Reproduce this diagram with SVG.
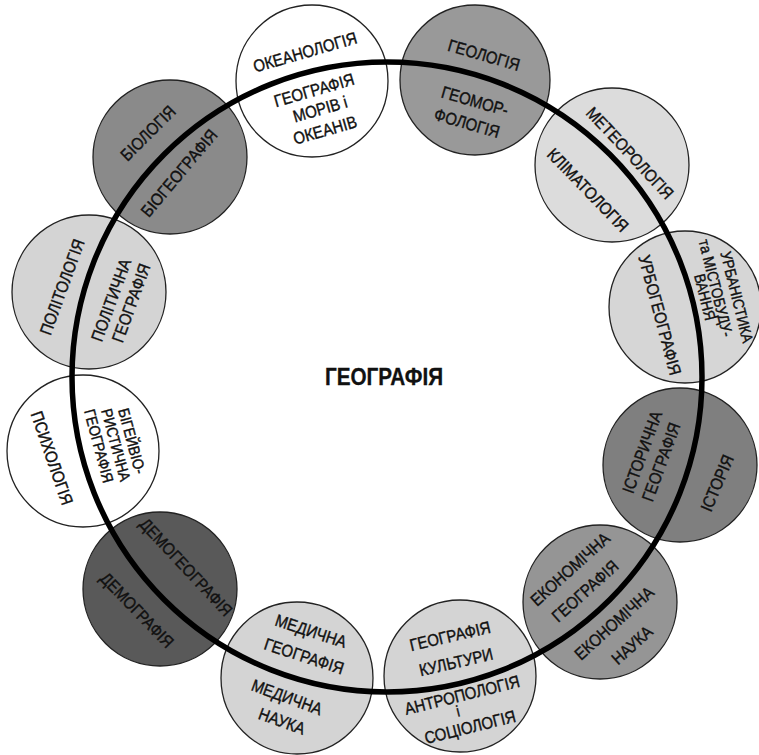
<svg xmlns="http://www.w3.org/2000/svg" width="759" height="755" viewBox="0 0 759 755">
<style>
.c{stroke:#222;stroke-width:1.3}
text{font-family:"Liberation Sans",Arial,sans-serif;font-size:17px;fill:#111;stroke:#111;stroke-width:0.4;text-anchor:middle}
.s{font-size:15.5px}
.main{font-size:23px;font-weight:bold;stroke-width:0.3}
.ring{fill:none;stroke:#000;stroke-width:5.5}
</style>
<rect width="759" height="755" fill="#fff"/>
<g id="node-ocean"><circle class="c" cx="312" cy="81" r="76" fill="#ffffff"/></g>
<g id="node-geology"><circle class="c" cx="475" cy="80" r="75" fill="#999999"/></g>
<g id="node-meteo"><circle class="c" cx="612" cy="165" r="77" fill="#dcdcdc"/></g>
<g id="node-urbo"><circle class="c" cx="685" cy="307" r="76" fill="#d6d6d6"/></g>
<g id="node-history"><circle class="c" cx="680" cy="465" r="77" fill="#7f7f7f"/></g>
<g id="node-econ"><circle class="c" cx="600" cy="602" r="77" fill="#959595"/></g>
<g id="node-anthro"><circle class="c" cx="460" cy="676" r="76" fill="#d4d4d4"/></g>
<g id="node-medical"><circle class="c" cx="297" cy="678" r="76" fill="#d4d4d4"/></g>
<g id="node-demo"><circle class="c" cx="160" cy="589" r="77" fill="#595959"/></g>
<g id="node-psych"><circle class="c" cx="83" cy="451" r="76" fill="#ffffff"/></g>
<g id="node-polit"><circle class="c" cx="89" cy="292" r="77" fill="#d4d4d4"/></g>
<g id="node-bio"><circle class="c" cx="170" cy="157" r="77" fill="#8a8a8a"/></g>
<g id="connectors"><circle class="ring" cx="387" cy="377" r="315"/></g>
<g id="labels">
<g id="label-ocean">
<text transform="translate(305,52) rotate(-16) scale(0.88,1)" y="6">ОКЕАНОЛОГІЯ</text>
<text transform="translate(314,90) rotate(-16) scale(0.88,1)" y="6">ГЕОГРАФІЯ</text>
<text transform="translate(320,109) rotate(-16) scale(0.88,1)" y="6">МОРІВ і</text>
<text transform="translate(325,130) rotate(-16) scale(0.88,1)" y="6">ОКЕАНІВ</text>
</g>
<g id="label-geology">
<text transform="translate(484,55) rotate(16) scale(0.88,1)" y="6">ГЕОЛОГІЯ</text>
<text transform="translate(475,101) rotate(16) scale(0.88,1)" y="6">ГЕОМОР-</text>
<text transform="translate(467,123) rotate(16) scale(0.88,1)" y="6">ФОЛОГІЯ</text>
</g>
<g id="label-meteo">
<text transform="translate(630,153) rotate(47) scale(0.88,1)" y="6">МЕТЕОРОЛОГІЯ</text>
<text transform="translate(588,190) rotate(46) scale(0.88,1)" y="6">КЛІМАТОЛОГІЯ</text>
</g>
<g id="label-urbo">
<text transform="translate(660,315) rotate(75) scale(0.88,1)" y="6">УРБОГЕОГРАФІЯ</text>
<text class="s" transform="translate(737,297) rotate(76) scale(0.88,1)" y="5.5">УРБАНІСТИКА</text>
<text class="s" transform="translate(716,288) rotate(76) scale(0.88,1)" y="5.5">та МІСТОБУДУ-</text>
<text class="s" transform="translate(705,297) rotate(76) scale(0.88,1)" y="5.5">ВАННЯ</text>
</g>
<g id="label-history">
<text transform="translate(642,452) rotate(-70) scale(0.88,1)" y="6">ІСТОРИЧНА</text>
<text transform="translate(661,462) rotate(-70) scale(0.88,1)" y="6">ГЕОГРАФІЯ</text>
<text transform="translate(717,483) rotate(-67) scale(0.88,1)" y="6">ІСТОРІЯ</text>
</g>
<g id="label-econ">
<text transform="translate(570,569) rotate(-42) scale(0.88,1)" y="6">ЕКОНОМІЧНА</text>
<text transform="translate(585,591) rotate(-42) scale(0.88,1)" y="6">ГЕОГРАФІЯ</text>
<text transform="translate(614,623) rotate(-42) scale(0.88,1)" y="6">ЕКОНОМІЧНА</text>
<text transform="translate(632,645) rotate(-42) scale(0.88,1)" y="6">НАУКА</text>
</g>
<g id="label-anthro">
<text transform="translate(450,636) rotate(-13) scale(0.88,1)" y="6">ГЕОГРАФІЯ</text>
<text transform="translate(456,662) rotate(-13) scale(0.88,1)" y="6">КУЛЬТУРИ</text>
<text transform="translate(462,695) rotate(-14) scale(0.88,1)" y="6">АНТРОПОЛОГІЯ</text>
<text class="s" transform="translate(458,711) rotate(-14) scale(0.88,1)" y="5.5">і</text>
<text transform="translate(470,727) rotate(-14) scale(0.88,1)" y="6">СОЦІОЛОГІЯ</text>
</g>
<g id="label-medical">
<text transform="translate(311,631) rotate(18) scale(0.88,1)" y="6">МЕДИЧНА</text>
<text transform="translate(304,656) rotate(18) scale(0.88,1)" y="6">ГЕОГРАФІЯ</text>
<text transform="translate(287,697) rotate(20) scale(0.88,1)" y="6">МЕДИЧНА</text>
<text transform="translate(282,721) rotate(20) scale(0.88,1)" y="6">НАУКА</text>
</g>
<g id="label-demo">
<text transform="translate(186,567) rotate(47) scale(0.88,1)" y="6">ДЕМОГЕОГРАФІЯ</text>
<text transform="translate(137,610) rotate(46) scale(0.88,1)" y="6">ДЕМОГРАФІЯ</text>
</g>
<g id="label-psych">
<text transform="translate(52,458) rotate(71) scale(0.88,1)" y="6">ПСИХОЛОГІЯ</text>
<text class="s" transform="translate(132,441) rotate(75) scale(0.88,1)" y="5.5">БІГЕЙВІО-</text>
<text class="s" transform="translate(116,445) rotate(75) scale(0.88,1)" y="5.5">РИСТИЧНА</text>
<text class="s" transform="translate(99,446) rotate(75) scale(0.88,1)" y="5.5">ГЕОГРАФІЯ</text>
</g>
<g id="label-polit">
<text transform="translate(62,287) rotate(-70) scale(0.88,1)" y="6">ПОЛІТОЛОГІЯ</text>
<text transform="translate(111,300) rotate(-70) scale(0.88,1)" y="6">ПОЛІТИЧНА</text>
<text transform="translate(131,303) rotate(-70) scale(0.88,1)" y="6">ГЕОГРАФІЯ</text>
</g>
<g id="label-bio">
<text transform="translate(148,133) rotate(-45) scale(0.88,1)" y="6">БІОЛОГІЯ</text>
<text transform="translate(179,173) rotate(-50) scale(0.88,1)" y="6">БІОГЕОГРАФІЯ</text>
</g>
<g id="label-main">
<text class="main" transform="translate(384,377) scale(0.9,1)" y="8">ГЕОГРАФІЯ</text>
</g>
</g>
</svg>
